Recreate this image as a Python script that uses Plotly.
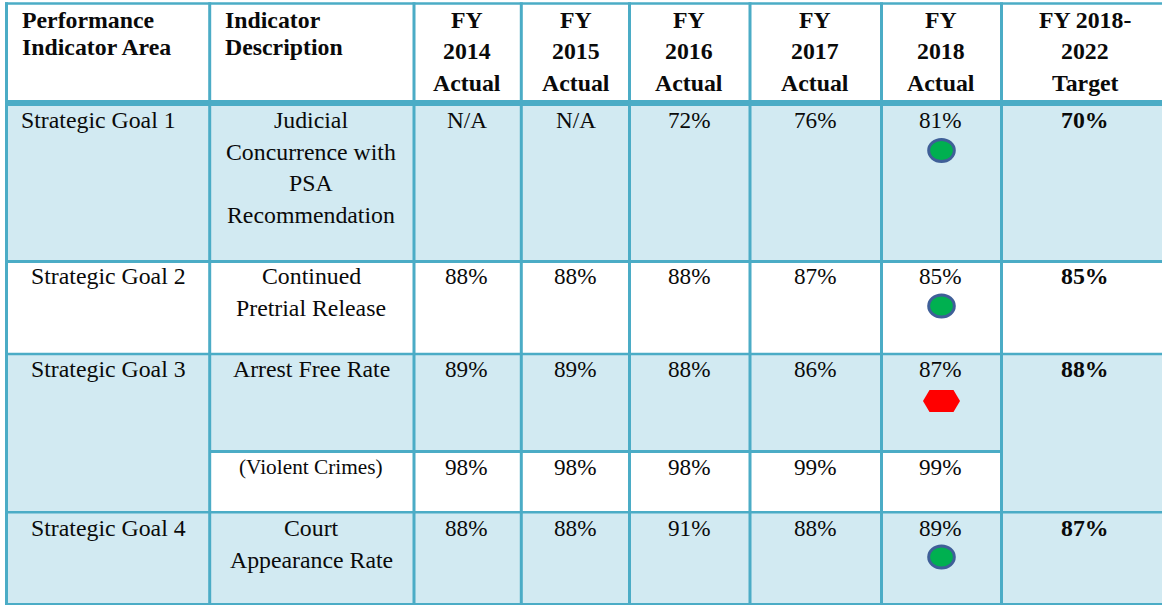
import plotly.graph_objects as go

# ---- data ----
header_area = ["Performance", "Indicator Area"]
header_desc = ["Indicator", "Description"]
header_years = [["FY", "2014", "Actual"], ["FY", "2015", "Actual"], ["FY", "2016", "Actual"],
                ["FY", "2017", "Actual"], ["FY", "2018", "Actual"], ["FY 2018-", "2022", "Target"]]
goals = ["Strategic Goal 1", "Strategic Goal 2", "Strategic Goal 3", "Strategic Goal 4"]
descriptions = [["Judicial", "Concurrence with", "PSA", "Recommendation"],
                ["Continued", "Pretrial Release"],
                ["Arrest Free Rate"],
                ["(Violent Crimes)"],
                ["Court", "Appearance Rate"]]
fy2014 = ["N/A", "88%", "89%", "98%", "88%"]
fy2015 = ["N/A", "88%", "89%", "98%", "88%"]
fy2016 = ["72%", "88%", "88%", "98%", "91%"]
fy2017 = ["76%", "87%", "86%", "99%", "88%"]
fy2018 = ["81%", "85%", "87%", "99%", "89%"]
targets = ["70%", "85%", "88%", "87%"]
status = ["green", "green", "red", "green"]

# ---- layout geometry (page pixels) ----
W, H = 1162, 605
BORDER = "#4bacc6"
LIGHT = "#d2eaf2"
FONT = "Liberation Serif"
v_lines = [6.5, 209.7, 414, 521.3, 629.5, 750, 881.5, 1001.5]
h_lines = [(3.5, 2.7), (103, 6), (261.5, 3), (354, 2.6), (451.5, 3), (512.3, 2.4), (604, 2)]
col_centers = [466.5, 575.5, 689, 815, 940.5, 1085]
row_first_y = [120, 276, 369, 467, 528]
target_y = [120, 276, 369, 528]
status_y = [150.5, 306, 401, 557]
goal_y = [120, 276, 369, 528]
goal_x = [20, 108, 108, 108]
desc_x = 311
LINE = 31.6

shapes, ann = [], []


def rect(x0, y0, x1, y1, color):
    shapes.append(dict(type="rect", x0=x0, x1=x1, y0=y0, y1=y1, fillcolor=color,
                       line_width=0, layer="below"))


def text(x, y, s, size=23.8, bold=False, anchor="center"):
    ann.append(dict(x=x, y=y, text=f"<b>{s}</b>" if bold else s, showarrow=False,
                    xanchor=anchor, yanchor="middle", borderpad=0,
                    font=dict(family=FONT, size=size, color="#0a0a0a")))


# fills
rect(6, 103, W, 261, LIGHT)
rect(6, 354, W, 604, LIGHT)
rect(210, 451, 1001, 512, "#ffffff")

# rules
for x in v_lines:
    shapes.append(dict(type="line", x0=x, x1=x, y0=2.2, y1=H, line=dict(color=BORDER, width=3)))
for y, w in h_lines:
    if y == 451.5:
        shapes.append(dict(type="line", x0=209, x1=1002, y0=y, y1=y, line=dict(color=BORDER, width=w)))
    else:
        shapes.append(dict(type="line", x0=5, x1=W, y0=y, y1=y, line=dict(color=BORDER, width=w)))

# header
for i, s in enumerate(header_area):
    text(20.5, 19.5 + i * 27, s, bold=True, anchor="left")
for i, s in enumerate(header_desc):
    text(224, 19.5 + i * 27, s, bold=True, anchor="left")
for cx, lines in zip(col_centers, header_years):
    for i, s in enumerate(lines):
        text(cx, 19.5 + i * 31.5, s, bold=True)

# body
for gx, gy, g in zip(goal_x, goal_y, goals):
    text(gx, gy, g, anchor="left" if gx == goal_x[0] else "center")
for y0, lines in zip(row_first_y, descriptions):
    small = lines[0].startswith("(")
    for i, s in enumerate(lines):
        text(desc_x, y0 + i * LINE, s, size=21.3 if small else 23.8)
for cx, col in zip(col_centers, [fy2014, fy2015, fy2016, fy2017, fy2018]):
    for y, s in zip(row_first_y, col):
        text(cx, y, s, size=23.2)
for y, s in zip(target_y, targets):
    text(col_centers[5], y, s, bold=True)

# status markers
for y, s in zip(status_y, status):
    cx = col_centers[4] + 1
    if s == "green":
        shapes.append(dict(type="circle", x0=cx - 12.8, x1=cx + 12.8, y0=y - 11, y1=y + 11,
                           fillcolor="#00b050", line=dict(color="#3f5f98", width=3)))
    else:
        a, b, c = 18.5, 12, 11
        path = (f"M{cx-a},{y} L{cx-b},{y-c} L{cx+b},{y-c} L{cx+a},{y} "
                f"L{cx+b},{y+c} L{cx-b},{y+c} Z")
        shapes.append(dict(type="path", path=path, fillcolor="#ff0000", line_width=0))

fig = go.Figure()
fig.update_layout(
    width=W, height=H, margin=dict(l=0, r=0, t=0, b=0),
    paper_bgcolor="#ffffff", plot_bgcolor="#ffffff", showlegend=False,
    xaxis=dict(range=[0, W], visible=False, fixedrange=True),
    yaxis=dict(range=[H, 0], visible=False, fixedrange=True),
    shapes=shapes, annotations=ann,
)
fig.write_html("out.html", config=dict(displayModeBar=False),
               post_script="document.body.style.margin='0';document.body.style.overflow='hidden';")
